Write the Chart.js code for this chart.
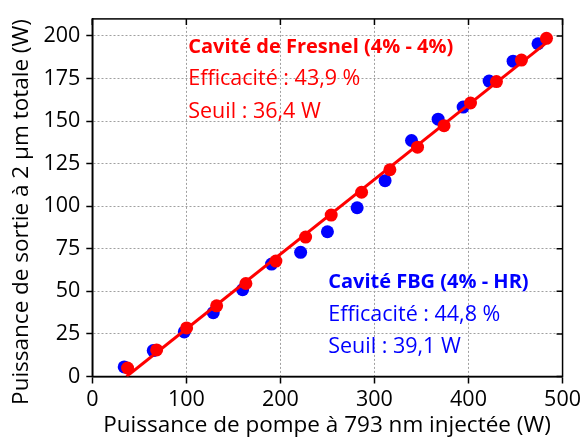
<!DOCTYPE html>
<html>
<head>
<meta charset="utf-8">
<script src="https://cdn.jsdelivr.net/npm/chart.js@4"></script>
<style>
  html, body { margin: 0; padding: 0; background: #fff; }
  #conteneur { width: 584px; height: 441px; }
</style>
</head>
<body>
<div id="conteneur"><canvas id="graphique" width="584" height="441"></canvas></div>
<script>
// Cavité FBG (4% - HR)
const pompeFBG = [33.9, 64.8, 97.8, 128.6, 159.8, 190.6, 221.5, 250.0, 281.6, 311.3, 339.4, 367.7, 394.3, 421.9, 447.4, 473.9];
const sortieFBG = [5.6, 15.2, 26.2, 37.5, 51.0, 66.0, 72.9, 85.0, 99.1, 115.0, 138.6, 151.1, 158.2, 173.5, 185.2, 195.4];

// Cavité de Fresnel (4% - 4%)
const pompeFresnel = [37.5, 68.4, 100.3, 132.2, 163.3, 195.2, 226.8, 254.0, 286.3, 316.4, 345.8, 374.0, 402.1, 429.7, 456.3, 482.9];
const sortieFresnel = [5.0, 15.6, 28.5, 41.5, 54.6, 67.8, 81.9, 94.8, 108.2, 121.4, 134.7, 147.3, 160.6, 173.2, 185.8, 198.6];

// ajustement linéaire Fresnel
const efficaciteFresnel = 43.9;
const seuilFresnel = 36.4;
const pompeFinAjustement = 483;

const efficaciteFBG = 44.8;
const seuilFBG = 39.1;

const ticksX = [0, 100, 200, 300, 400, 500];
const ticksY = [0, 25, 50, 75, 100, 125, 150, 175, 200];

const texteFresnel = ['Cavité de Fresnel (4% - 4%)', 'Efficacité : 43,9 %', 'Seuil : 36,4 W'];
const texteFBG = ['Cavité FBG (4% - HR)', 'Efficacité : 44,8 %', 'Seuil : 39,1 W'];

const titreX = 'Puissance de pompe à 793 nm injectée (W)';
const titreY = 'Puissance de sortie à 2 µm totale (W)';

const police = '"Open Sans", "Noto Sans", sans-serif';
const ROUGE = '#ff0000';
const BLEU = '#0000ff';

const enPoints = (xs, ys) => xs.map((x, i) => ({ x: x, y: ys[i] }));

const droiteFresnel = [seuilFresnel, pompeFinAjustement].map(p => ({
    x: p,
    y: efficaciteFresnel / 100 * (p - seuilFresnel)
}));

// cadre complet + petits traits vers l'intérieur en haut et à droite
const cadre = {
    id: 'cadre',
    beforeDatasetsDraw(chart) {
        const { ctx, chartArea: a, scales } = chart;
        ctx.save();
        ctx.strokeStyle = '#000';
        ctx.lineWidth = 1.5;
        ctx.strokeRect(a.left, a.top, a.right - a.left, a.bottom - a.top);
        ctx.beginPath();
        ticksX.forEach(v => {
            const x = scales.x.getPixelForValue(v);
            ctx.moveTo(x, a.top);
            ctx.lineTo(x, a.top + 6);
        });
        ticksY.forEach(v => {
            const y = scales.y.getPixelForValue(v);
            ctx.moveTo(a.right, y);
            ctx.lineTo(a.right - 6, y);
        });
        ctx.stroke();
        ctx.restore();
    }
};

// textes d'annotation et titres des axes
const textes = {
    id: 'textes',
    afterDraw(chart) {
        const { ctx, scales, chartArea: a } = chart;
        const bloc = (lignes, vx, vy, couleur) => {
            const x = scales.x.getPixelForValue(vx);
            let y = scales.y.getPixelForValue(vy);
            ctx.fillStyle = couleur;
            ctx.textAlign = 'left';
            ctx.textBaseline = 'alphabetic';
            lignes.forEach((t, i) => {
                ctx.font = i === 0 ? 'bold 20px ' + police : '21.5px ' + police;
                ctx.fillText(t, x, y);
                y += 32.6;
            });
        };
        ctx.save();
        bloc(texteFresnel, 102, 190.2, ROUGE);
        bloc(texteFBG, 250.8, 51.8, BLEU);

        ctx.fillStyle = '#000';
        ctx.font = '22.5px ' + police;
        ctx.textAlign = 'center';
        ctx.textBaseline = 'middle';
        ctx.fillText(titreX, 327, 426);

        ctx.translate(22, 212);
        ctx.rotate(-Math.PI / 2);
        ctx.fillText(titreY, 0, 0);
        ctx.restore();
    }
};

const ctx = document.getElementById('graphique').getContext('2d');
new Chart(ctx, {
    type: 'scatter',
    data: {
        datasets: [{
            label: 'Cavité FBG (4% - HR)',
            data: enPoints(pompeFBG, sortieFBG),
            backgroundColor: BLEU,
            borderColor: BLEU,
            pointRadius: 6.5,
            borderWidth: 0,
            order: 3
        }, {
            label: 'Ajustement Fresnel',
            type: 'line',
            data: droiteFresnel,
            borderColor: ROUGE,
            borderWidth: 3,
            pointRadius: 0,
            fill: false,
            order: 2
        }, {
            label: 'Cavité de Fresnel (4% - 4%)',
            data: enPoints(pompeFresnel, sortieFresnel),
            backgroundColor: ROUGE,
            borderColor: ROUGE,
            pointRadius: 6.5,
            borderWidth: 0,
            order: 1
        }]
    },
    options: {
        responsive: false,
        animation: false,
        events: [],
        layout: { padding: { top: 9, right: 21, bottom: 0, left: 0 } },
        plugins: {
            legend: { display: false },
            tooltip: { enabled: false }
        },
        scales: {
            x: {
                type: 'linear',
                min: 0,
                max: 500,
                afterFit: s => { s.height = 64.5; },
                afterBuildTicks: s => { s.ticks = ticksX.map(v => ({ value: v })); },
                ticks: { color: '#000', font: { family: police, size: 21.5 }, padding: 3 },
                grid: { color: '#a0a0a0', lineWidth: 1, tickColor: '#000', tickLength: 7, tickWidth: 1.5 },
                border: { color: '#000', width: 1.5, dash: [2, 2] }
            },
            y: {
                type: 'linear',
                min: 0,
                max: 210,
                afterFit: s => { s.width = 92.3; },
                afterBuildTicks: s => { s.ticks = ticksY.map(v => ({ value: v })); },
                ticks: { color: '#000', font: { family: police, size: 21.5 }, padding: 6 },
                grid: { color: '#a0a0a0', lineWidth: 1, tickColor: '#000', tickLength: 6, tickWidth: 1.5 },
                border: { color: '#000', width: 1.5, dash: [2, 2] }
            }
        }
    },
    plugins: [cadre, textes]
});
</script>
</body>
</html>
